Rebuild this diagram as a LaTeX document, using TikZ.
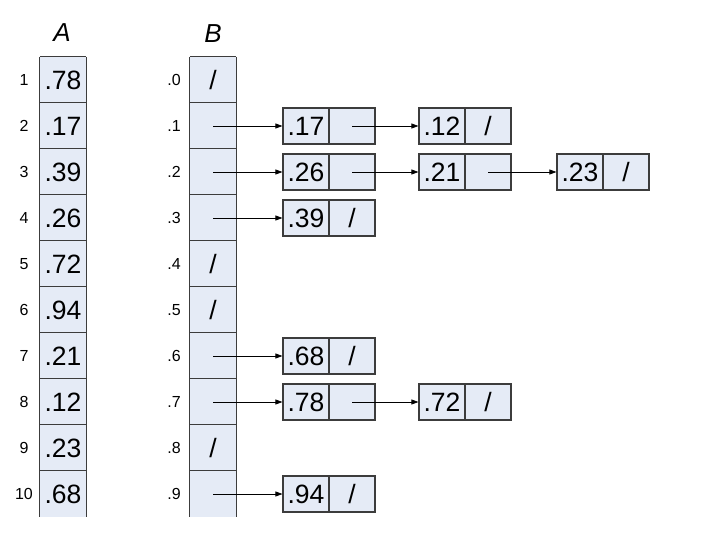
\documentclass[tikz,border=0pt]{standalone}
\usepackage{fontspec}
\setmainfont{Liberation Sans}
\usetikzlibrary{arrows.meta}
\definecolor{cellfill}{RGB}{229,235,246}
\definecolor{cellline}{RGB}{60,60,60}
\begin{document}
\begin{tikzpicture}[x=1pt,y=-1pt,
  cell/.style={fill=cellfill, minimum width=46pt, minimum height=46pt, inner sep=0pt,
    font=\fontsize{26.5}{26.5}\selectfont},
  lcell/.style={fill=cellfill, draw=cellline, line width=1.1pt, minimum width=46pt,
    minimum height=36pt, inner sep=0pt, font=\fontsize{26.5}{26.5}\selectfont},
  slashtxt/.style={inner sep=0pt, font=\fontsize{26.5}{26.5}\selectfont},
  idx/.style={inner sep=0pt, font=\fontsize{16}{16}\selectfont},
  ttl/.style={inner sep=0pt, font=\fontsize{26}{26}\selectfont\itshape},
  gridline/.style={draw=cellline, line width=1.1pt},
  ptr/.style={-{Triangle[length=7pt,width=5pt]}, line width=0.7pt, draw=black}]
\useasboundingbox (0,0) rectangle (723,548);

% titles
\node[ttl] (ta) at (62,33) {A};
\node[ttl] (tb) at (213,34) {B};

% array A
\foreach \v [count=\i] in {.78,.17,.39,.26,.72,.94,.21,.12,.23,.68} {
  \node[cell] (a\i) at (63,{80+46*(\i-1)}) {\v};
  \node[idx] (ai\i) at (24,{80+46*(\i-1)}) {\i};
}
\draw[gridline] (a1.north west) -- (a10.south west);
\draw[gridline] (a1.north east) -- (a10.south east);
\foreach \i in {1,...,10} \draw[gridline] (a\i.north west) -- (a\i.north east);

% array B
\foreach \i in {1,...,10} {
  \node[cell] (b\i) at (213,{80+46*(\i-1)}) {};
}
\foreach \i in {1,5,6,9} \node[slashtxt] (bs\i) at (b\i) {/};
\foreach \d [count=\i] in {0,...,9} \node[idx] (bi\i) at (174,{80+46*(\i-1)}) {.\d};
\draw[gridline] (b1.north west) -- (b10.south west);
\draw[gridline] (b1.north east) -- (b10.south east);
\foreach \i in {1,...,10} \draw[gridline] (b\i.north west) -- (b\i.north east);

% list .1
\node[lcell] (p1a) at (306,126) {.17};
\node[lcell] (p1b) at (352,126) {};
\node[lcell] (p1c) at (442,126) {.12};
\node[lcell] (p1d) at (488,126) {/};
\draw[ptr] (b2.center) -- (p1a.west);
\draw[ptr] (p1b.center) -- (p1c.west);

% list .2
\node[lcell] (p2a) at (306,172) {.26};
\node[lcell] (p2b) at (352,172) {};
\node[lcell] (p2c) at (442,172) {.21};
\node[lcell] (p2d) at (488,172) {};
\node[lcell] (p2e) at (580,172) {.23};
\node[lcell] (p2f) at (626,172) {/};
\draw[ptr] (b3.center) -- (p2a.west);
\draw[ptr] (p2b.center) -- (p2c.west);
\draw[ptr] (p2d.center) -- (p2e.west);

% list .3
\node[lcell] (p3a) at (306,218) {.39};
\node[lcell] (p3b) at (352,218) {/};
\draw[ptr] (b4.center) -- (p3a.west);

% list .6
\node[lcell] (p6a) at (306,356) {.68};
\node[lcell] (p6b) at (352,356) {/};
\draw[ptr] (b7.center) -- (p6a.west);

% list .7
\node[lcell] (p7a) at (306,402) {.78};
\node[lcell] (p7b) at (352,402) {};
\node[lcell] (p7c) at (442,402) {.72};
\node[lcell] (p7d) at (488,402) {/};
\draw[ptr] (b8.center) -- (p7a.west);
\draw[ptr] (p7b.center) -- (p7c.west);

% list .9
\node[lcell] (p9a) at (306,494) {.94};
\node[lcell] (p9b) at (352,494) {/};
\draw[ptr] (b10.center) -- (p9a.west);
\end{tikzpicture}
\end{document}
